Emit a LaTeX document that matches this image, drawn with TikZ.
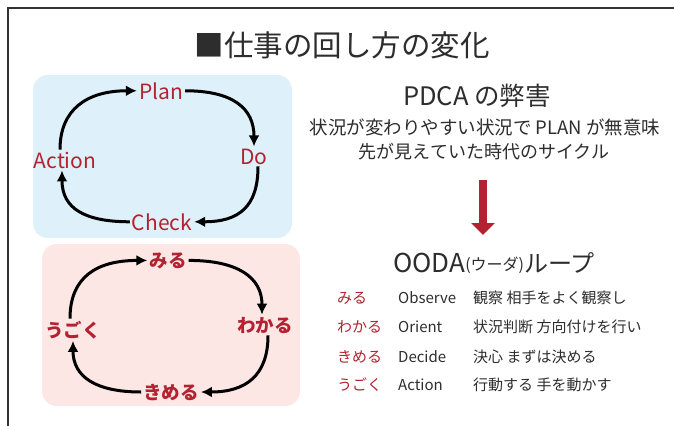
\documentclass[tikz,border=0pt]{standalone}
\usepackage{fontspec}
\setmainfont{Noto Sans CJK JP}
\usetikzlibrary{arrows.meta}
\definecolor{lbl}{RGB}{178,34,48}
\definecolor{bluebg}{RGB}{222,241,250}
\definecolor{pinkbg}{RGB}{252,231,229}
\definecolor{txt}{RGB}{45,45,45}
\definecolor{framec}{RGB}{50,50,50}
\newcommand{\myfs}[1]{\fontsize{#1}{#1}\selectfont}
\begin{document}
\begin{tikzpicture}[x=1pt,y=-1pt,
  lab/.style={text=lbl, inner sep=2pt, anchor=base, font=\myfs{21}},
  jlab/.style={text=lbl, inner sep=2pt, anchor=base, font=\myfs{18.5}\bfseries},
  cyc/.style={line width=3pt, -{Latex[length=11pt,width=11pt]}},
  bg/.style={rounded corners=15pt},
  rtxt/.style={text=txt, inner sep=0pt, anchor=base},
  rowr/.style={text=lbl, inner sep=0pt, anchor=base west, font=\myfs{15}},
  rowt/.style={text=txt, inner sep=0pt, anchor=base west, font=\myfs{15}}]
\useasboundingbox (0,0) rectangle (674,426);
% frame
\draw[framec, line width=2.5pt] (674,8) -- (8,8) -- (8,426);
% title
\node[rtxt, font=\myfs{29.5}] (title) at (342,56) {■仕事の回し方の変化};
% backgrounds
\fill[bluebg, bg] (33,75) rectangle (292,238);
\fill[pinkbg, bg] (42,244) rectangle (300,406);
% PDCA loop
\node[lab] (plan) at (161,99) {Plan};
\node[lab] (do) at (254,164) {Do};
\node[lab] (check) at (162,230) {Check};
\node[lab] (action) at (65,168) {Action};
\draw[cyc] ([xshift=-5pt]action.north) .. controls +(0,-40) and +(-50,0) .. (plan.west);
\draw[cyc] (plan.east) .. controls +(48,0) and +(0,-38) .. (do.north);
\draw[cyc] ([xshift=4pt]do.south) .. controls +(0,40) and +(45,0) .. (check.east);
\draw[cyc] (check.west) .. controls +(-45,0) and +(0,38) .. ([xshift=-3pt]action.south);
% OODA loop
\node[jlab] (miru) at (168,267) {みる};
\node[jlab] (wakaru) at (265,332) {わかる};
\node[jlab] (kimeru) at (171,399) {きめる};
\node[jlab] (ugoku) at (73,337) {うごく};
\draw[cyc] ([xshift=-3pt]ugoku.north) .. controls +(0,-42) and +(-50,0) .. (miru.west);
\draw[cyc] (miru.east) .. controls +(48,0) and +(0,-38) .. ([xshift=-3pt]wakaru.north);
\draw[cyc] ([xshift=3pt]wakaru.south) .. controls +(0,40) and +(45,0) .. (kimeru.east);
\draw[cyc] (kimeru.west) .. controls +(-45,0) and +(0,36) .. (ugoku.south);
% right side text
\node[rtxt, font=\myfs{25.5}] (pdcah) at (477,105) {PDCA の弊害};
\node[rtxt, font=\myfs{18.5}] (l1) at (485,134.5) {状況が変わりやすい状況で PLAN が無意味};
\node[rtxt, font=\myfs{18}] (l2) at (484,158.5) {先が見えていた時代のサイクル};
\coordinate (ra1) at (483,180);
\coordinate (ra2) at (483,235);
\draw[lbl, line width=8pt, -{Triangle[width=23pt,length=12pt]}] (ra1) -- (ra2);
\node[rtxt] (oodah) at (494,272) {{\myfs{26}OODA}\raisebox{2pt}{\myfs{16}(ウーダ)}{\myfs{24}ループ}};
% rows
\node[rowr] (r1a) at (337,303.5) {みる};
\node[rowt] (r1b) at (398,303.5) {Observe};
\node[rowt] (r1c) at (473,303.5) {観察 相手をよく観察し};
\node[rowr] (r2a) at (337,332.5) {わかる};
\node[rowt] (r2b) at (398,332.5) {Orient};
\node[rowt] (r2c) at (473,332.5) {状況判断 方向付けを行い};
\node[rowr] (r3a) at (337,362.5) {きめる};
\node[rowt] (r3b) at (398,362.5) {Decide};
\node[rowt] (r3c) at (473,362.5) {決心 まずは決める};
\node[rowr] (r4a) at (337,390.5) {うごく};
\node[rowt] (r4b) at (398,390.5) {Action};
\node[rowt] (r4c) at (473,390.5) {行動する 手を動かす};
\end{tikzpicture}
\end{document}
